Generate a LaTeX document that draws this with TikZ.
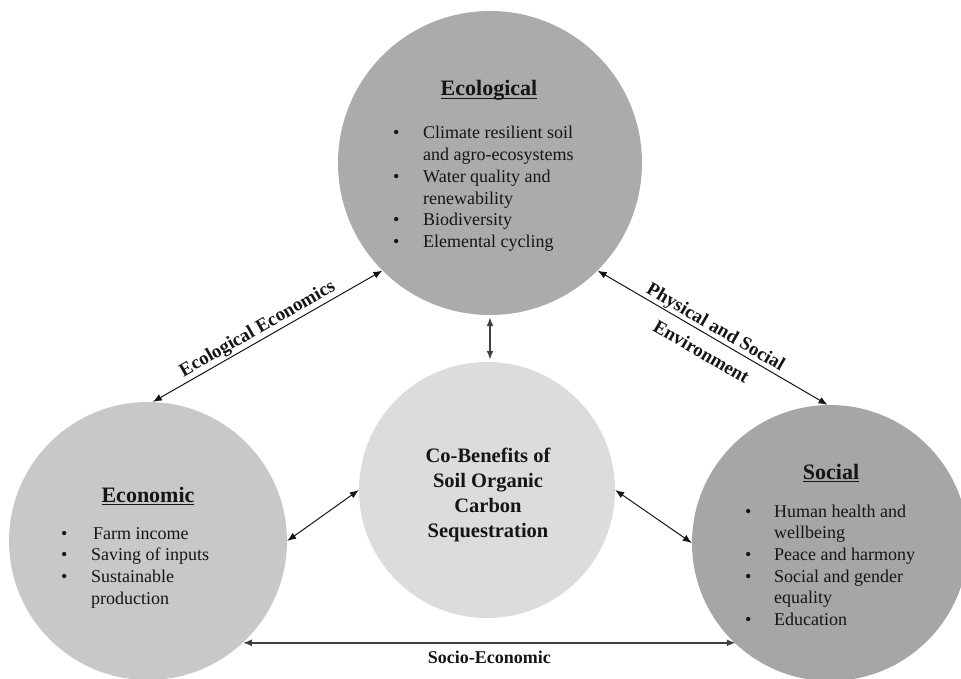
\documentclass[tikz,border=0pt]{standalone}
\usepackage{fontspec}
\setmainfont{Liberation Serif}
\usetikzlibrary{arrows.meta}
\definecolor{ecoC}{HTML}{ABABAB}
\definecolor{econC}{HTML}{C8C8C8}
\definecolor{ctrC}{HTML}{DCDCDC}
\definecolor{socC}{HTML}{A6A6A6}
\definecolor{inkC}{HTML}{151515}
\newcommand\myul[1]{\setbox0\hbox{#1}\rlap{\rule[-3pt]{\wd0}{1.3pt}}\box0}
\begin{document}
\begin{tikzpicture}[x=1pt,y=-1pt,
  blob/.style={circle, inner sep=0pt, draw=none},
  link/.style={{Latex[length=9pt,width=7pt]}-{Latex[length=9pt,width=7pt]}, line width=1pt, inkC},
  thick link/.style={link, line width=1.6pt, black!75},
  title/.style={font=\fontsize{22}{26}\selectfont\bfseries, anchor=base, inner sep=0pt, text=inkC},
  lbl/.style={font=\fontsize{19}{22}\selectfont\bfseries, text=inkC},
  list/.style={anchor=base west, inner sep=0pt, font=\fontsize{18}{21.7}\selectfont, text=inkC}
]
\useasboundingbox (0,0) rectangle (961,679);
\clip (0,0) rectangle (961,679);

\node[blob, fill=ecoC, minimum size=304pt] (eco) at (490,163) {};
\node[blob, fill=econC, minimum size=278pt] (econ) at (148,541) {};
\node[blob, fill=ctrC, minimum size=256pt] (ctr) at (487,490) {};
\node[blob, fill=socC, minimum size=276pt] (soc) at (830,543) {};

% titles
\node[title] (ecoT) at (489,96) {\myul{Ecological}};
\node[title] (econT) at (148,502) {\myul{Economic}};
\node[title] (socT) at (831,479) {\myul{Social}};

% lists
\node[list] (ecoL) at (393,139) {\begin{tabular}[t]{@{}p{30pt}@{}l@{}}
\textbullet & Climate resilient soil\\
 & and agro-ecosystems\\
\textbullet & Water quality and\\
 & renewability\\
\textbullet & Biodiversity\\
\textbullet & Elemental cycling
\end{tabular}};
\node[list] (econL) at (61,539) {\begin{tabular}[t]{@{}p{30pt}@{}l@{}}
\textbullet & \hspace{2pt}Farm income\\
\textbullet & Saving of inputs\\
\textbullet & Sustainable\\
 & production
\end{tabular}};
\node[list] (socL) at (745,517) {\begin{tabular}[t]{@{}p{29pt}@{}l@{}}
\textbullet & Human health and\\
 & wellbeing\\
\textbullet & Peace and harmony\\
\textbullet & Social and gender\\
 & equality\\
\textbullet & Education
\end{tabular}};

% centre text
\node[anchor=base, inner sep=0pt, text=inkC, font=\fontsize{20.5}{25}\selectfont\bfseries] (ctrT) at (488,462)
 {\begin{tabular}[t]{@{}c@{}}Co-Benefits of\\ Soil Organic\\ Carbon\\ Sequestration\end{tabular}};

% connectors
\draw[link] (econ.88) -- node[pos=0.48, above, sloped, lbl, inner sep=1.5pt] (lab1) {Ecological Economics} (eco.225);
\draw[link] (eco.-45) -- node[pos=0.49, sloped, lbl, align=center, inner sep=0pt, font=\fontsize{19}{29}\selectfont\bfseries, yshift=-3pt] (lab2) {Physical and Social\\Environment} (soc.91);
\draw[thick link, shorten <=2pt, shorten >=2pt] (eco.south) -- (eco.south |- ctr.north);
\draw[link] (econ.0) -- (ctr.180);
\draw[link] (ctr.0) -- (soc.180);
\draw[thick link] (econ.-47) -- node[midway, below=7pt, lbl, font=\fontsize{18}{22}\selectfont\bfseries, inner sep=0pt] (lab3) {Socio-Economic} (econ.-47 -| soc.227);
\end{tikzpicture}
\end{document}
